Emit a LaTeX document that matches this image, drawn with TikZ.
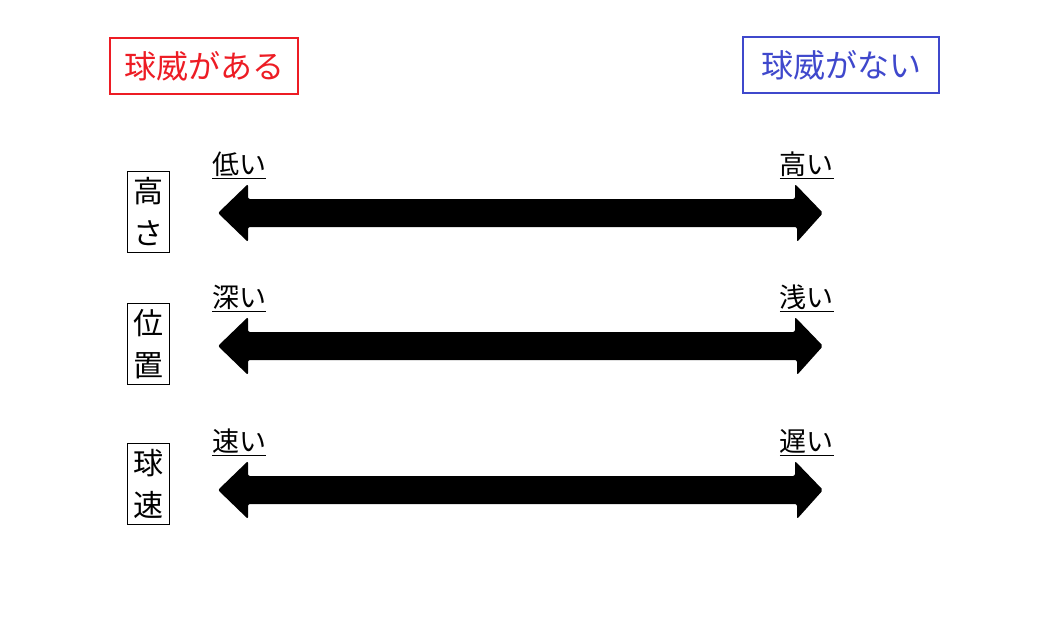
\documentclass[tikz,border=0pt]{standalone}
\usepackage{fontspec}
\setmainfont{Noto Sans CJK JP}
\begin{document}
\begin{tikzpicture}[x=1pt,y=-1pt,
  top/.style={draw=#1,text=#1,line width=2pt,minimum width=188pt,minimum height=56pt,font=\fontsize{32}{36}\selectfont,inner sep=0pt},
  side/.style={draw,line width=0.8pt,minimum width=42pt,align=center,font=\fontsize{30}{42}\selectfont,inner xsep=3pt,inner ysep=6pt},
  lab/.style={font=\fontsize{27}{30}\selectfont,inner sep=0pt},
  arr/.style={fill=black,rounded corners=2pt}]
\useasboundingbox (0,0) rectangle (1059,634);
\definecolor{rd}{RGB}{237,28,36}
\definecolor{bl}{RGB}{63,72,204}
\node[top=rd] (a) at (204,66) {球威がある};
\node[top=bl,minimum width=196pt] (b) at (841,65) {球威がない};
\node[side] (s1) at (148,212) {高\\さ};
\node[side] (s2) at (148,344) {位\\置};
\node[side] (s3) at (148,484) {球\\速};
\foreach \y/\l/\r/\n in {213/低い/高い/1,346/深い/浅い/2,490/速い/遅い/3}{
  \coordinate (L\n) at (218,\y);
  \coordinate (R\n) at (823,\y);
  \fill[arr] (L\n) -- ++(30,-29) -- ++(0,15) -- ++(547,0) -- ++(0,-15) -- (R\n) -- ++(-26,29) -- ++(0,-15) -- ++(-549,0) -- ++(0,15) -- cycle;
  \node[lab,anchor=south west] (l\n) at (212,\y-34) {\underline{\l}};
  \node[lab,anchor=south east] (r\n) at (834,\y-34) {\underline{\r}};
}
\end{tikzpicture}
\end{document}
